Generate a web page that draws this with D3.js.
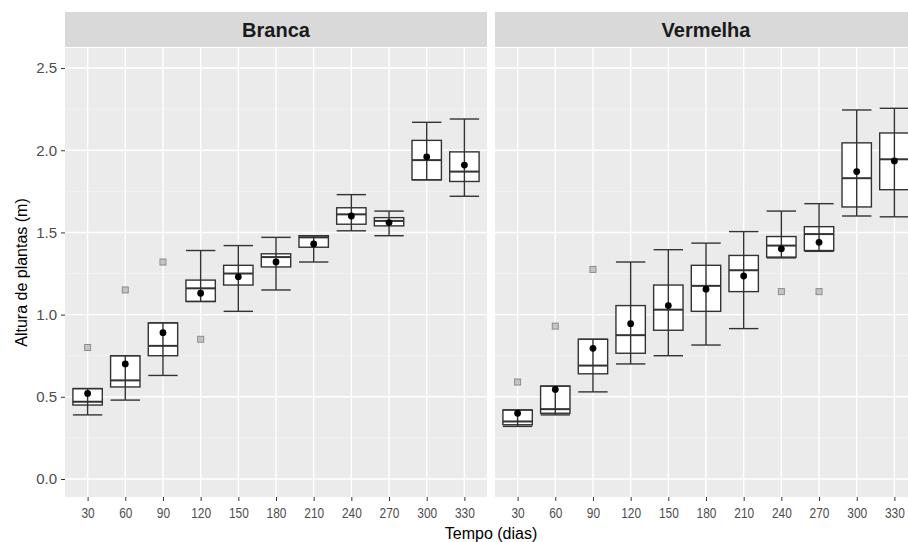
<!DOCTYPE html>
<html>
<head>
<meta charset="utf-8">
<script src="https://cdn.jsdelivr.net/npm/d3@7"></script>
<style>
  body { margin: 0; background: #fff; }
  text { font-family: "Liberation Sans", Arial, sans-serif; }
</style>
</head>
<body>
<script>
// tempo (dias)
const days = [30, 60, 90, 120, 150, 180, 210, 240, 270, 300, 330]
const yTicks = [0, 0.5, 1.0, 1.5, 2.0, 2.5]

// Branca
const brancaLo = [0.39, 0.48, 0.63, 1.08, 1.02, 1.15, 1.32, 1.51, 1.48, 1.82, 1.72]
const brancaQ1 = [0.45, 0.56, 0.75, 1.08, 1.18, 1.29, 1.41, 1.55, 1.54, 1.82, 1.81]
const brancaMed = [0.47, 0.60, 0.81, 1.16, 1.25, 1.35, 1.47, 1.61, 1.57, 1.94, 1.87]
const brancaQ3 = [0.55, 0.75, 0.95, 1.21, 1.30, 1.37, 1.48, 1.65, 1.59, 2.06, 1.99]
const brancaHi = [0.55, 0.75, 0.95, 1.39, 1.42, 1.47, 1.48, 1.73, 1.63, 2.17, 2.19]
const brancaMean = [0.52, 0.70, 0.89, 1.13, 1.23, 1.32, 1.43, 1.60, 1.56, 1.96, 1.91]
const brancaOut = [[30, 0.80], [60, 1.15], [90, 1.32], [120, 0.85]]

// Vermelha
const vermLo = [0.32, 0.39, 0.53, 0.70, 0.75, 0.815, 0.915, 1.345, 1.385, 1.60, 1.595]
const vermQ1 = [0.33, 0.40, 0.64, 0.765, 0.905, 1.02, 1.14, 1.35, 1.39, 1.655, 1.76]
const vermMed = [0.35, 0.425, 0.69, 0.875, 1.03, 1.175, 1.27, 1.42, 1.49, 1.83, 1.945]
const vermQ3 = [0.42, 0.565, 0.85, 1.055, 1.18, 1.30, 1.36, 1.475, 1.535, 2.045, 2.105]
const vermHi = [0.42, 0.565, 0.85, 1.32, 1.395, 1.435, 1.505, 1.63, 1.675, 2.245, 2.255]
const vermMean = [0.40, 0.545, 0.795, 0.945, 1.055, 1.155, 1.235, 1.40, 1.44, 1.87, 1.935]
const vermOut = [[30, 0.59], [60, 0.93], [90, 1.275], [240, 1.14], [270, 1.14]]

const panels = [
  {name: 'Branca', left: 65, lo: brancaLo, q1: brancaQ1, med: brancaMed, q3: brancaQ3, hi: brancaHi, mean: brancaMean, out: brancaOut},
  {name: 'Vermelha', left: 495, lo: vermLo, q1: vermQ1, med: vermMed, q3: vermQ3, hi: vermHi, mean: vermMean, out: vermOut}
]

const W = 908, H = 542
const panelW = 422, panelTop = 48, panelBottom = 497, stripTop = 12

const svg = d3.select('body').append('svg')
  .attr('width', W)
  .attr('height', H)

const y = d3.scaleLinear()
  .domain([-0.1095, 2.622])
  .range([panelBottom, panelTop])

panels.forEach(function (p) {
  const x = d3.scalePoint()
    .domain(days)
    .range([p.left, p.left + panelW])
    .padding(0.6)
  const bw = x.step() * 0.78

  const g = svg.append('g')

  // strip
  g.append('rect')
    .attr('x', p.left).attr('y', stripTop)
    .attr('width', panelW).attr('height', panelTop - stripTop - 1)
    .attr('fill', '#D9D9D9')
  g.append('text')
    .attr('x', p.left + panelW / 2)
    .attr('y', (stripTop + panelTop) / 2 + 7)
    .attr('text-anchor', 'middle')
    .attr('font-size', 20)
    .attr('font-weight', 'bold')
    .attr('fill', '#1A1A1A')
    .text(p.name)

  // panel background
  g.append('rect')
    .attr('x', p.left).attr('y', panelTop)
    .attr('width', panelW).attr('height', panelBottom - panelTop)
    .attr('fill', '#EBEBEB')

  // minor grid
  const minor = d3.range(-0.25, 2.8, 0.5).filter(v => y(v) > panelTop && y(v) < panelBottom)
  g.selectAll('.minor')
    .data(minor)
    .enter().append('line')
    .attr('x1', p.left).attr('x2', p.left + panelW)
    .attr('y1', d => y(d)).attr('y2', d => y(d))
    .attr('stroke', '#F5F5F5').attr('stroke-width', 0.7)

  // major grid
  g.selectAll('.hgrid')
    .data(yTicks)
    .enter().append('line')
    .attr('x1', p.left).attr('x2', p.left + panelW)
    .attr('y1', d => y(d)).attr('y2', d => y(d))
    .attr('stroke', '#fff').attr('stroke-width', 1.4)
  g.selectAll('.vgrid')
    .data(days)
    .enter().append('line')
    .attr('x1', d => x(d)).attr('x2', d => x(d))
    .attr('y1', panelTop).attr('y2', panelBottom)
    .attr('stroke', '#fff').attr('stroke-width', 1.4)

  // x axis
  const xAxis = g.append('g')
    .attr('transform', 'translate(0,' + panelBottom + ')')
    .call(d3.axisBottom(x).tickSize(4).tickPadding(7))
  xAxis.select('.domain').remove()
  xAxis.selectAll('.tick line').attr('stroke', '#333')
  xAxis.selectAll('.tick text')
    .attr('font-size', 14)
    .attr('fill', '#4D4D4D')
    .attr('font-family', '"Liberation Sans", Arial, sans-serif')
    .attr('transform', 'scale(0.85,1)')

  const stats = days.map(function (d, i) {
    return {d: d, lo: p.lo[i], q1: p.q1[i], med: p.med[i], q3: p.q3[i], hi: p.hi[i], mean: p.mean[i]}
  })

  // boxes
  g.selectAll('.box')
    .data(stats)
    .enter().append('rect')
    .attr('x', d => x(d.d) - bw / 2)
    .attr('y', d => y(d.q3))
    .attr('width', bw)
    .attr('height', d => y(d.q1) - y(d.q3))
    .attr('fill', '#fff')
    .attr('stroke', '#333').attr('stroke-width', 1.4)
  g.selectAll('.median')
    .data(stats)
    .enter().append('line')
    .attr('x1', d => x(d.d) - bw / 2).attr('x2', d => x(d.d) + bw / 2)
    .attr('y1', d => y(d.med)).attr('y2', d => y(d.med))
    .attr('stroke', '#333').attr('stroke-width', 2)

  // error bars (whiskers)
  const eb = g.selectAll('.eb')
    .data(stats)
    .enter().append('g')
  eb.append('line')
    .attr('x1', d => x(d.d)).attr('x2', d => x(d.d))
    .attr('y1', d => y(d.lo)).attr('y2', d => y(d.hi))
    .attr('stroke', '#333').attr('stroke-width', 1.4)
  eb.append('line')
    .attr('x1', d => x(d.d) - bw / 2).attr('x2', d => x(d.d) + bw / 2)
    .attr('y1', d => y(d.lo)).attr('y2', d => y(d.lo))
    .attr('stroke', '#333').attr('stroke-width', 1.4)
  eb.append('line')
    .attr('x1', d => x(d.d) - bw / 2).attr('x2', d => x(d.d) + bw / 2)
    .attr('y1', d => y(d.hi)).attr('y2', d => y(d.hi))
    .attr('stroke', '#333').attr('stroke-width', 1.4)

  // outliers
  g.selectAll('.out')
    .data(p.out)
    .enter().append('rect')
    .attr('x', d => x(d[0]) - 3)
    .attr('y', d => y(d[1]) - 3)
    .attr('width', 6).attr('height', 6)
    .attr('fill', '#C4C4C4')
    .attr('stroke', '#8C8C8C').attr('stroke-width', 1)

  // means
  g.selectAll('.mean')
    .data(stats)
    .enter().append('circle')
    .attr('cx', d => x(d.d))
    .attr('cy', d => y(d.mean))
    .attr('r', 3.4)
    .attr('fill', '#000')
})

// y axis
const yAxis = svg.append('g')
  .attr('transform', 'translate(' + panels[0].left + ',0)')
  .call(d3.axisLeft(y).tickValues(yTicks).tickFormat(d3.format('.1f')).tickSize(4).tickPadding(4))
yAxis.select('.domain').remove()
yAxis.selectAll('.tick line').attr('stroke', '#333')
yAxis.selectAll('.tick text')
  .attr('font-size', 15)
  .attr('fill', '#4D4D4D')
  .attr('font-family', '"Liberation Sans", Arial, sans-serif')

// axis titles
svg.append('text')
  .attr('x', 491)
  .attr('y', 539)
  .attr('text-anchor', 'middle')
  .attr('font-size', 16)
  .attr('fill', '#000')
  .text('Tempo (dias)')

svg.append('text')
  .attr('transform', 'translate(27,' + ((panelTop + panelBottom) / 2) + ') rotate(-90)')
  .attr('text-anchor', 'middle')
  .attr('font-size', 16)
  .attr('fill', '#000')
  .text('Altura de plantas (m)')
</script>
</body>
</html>
